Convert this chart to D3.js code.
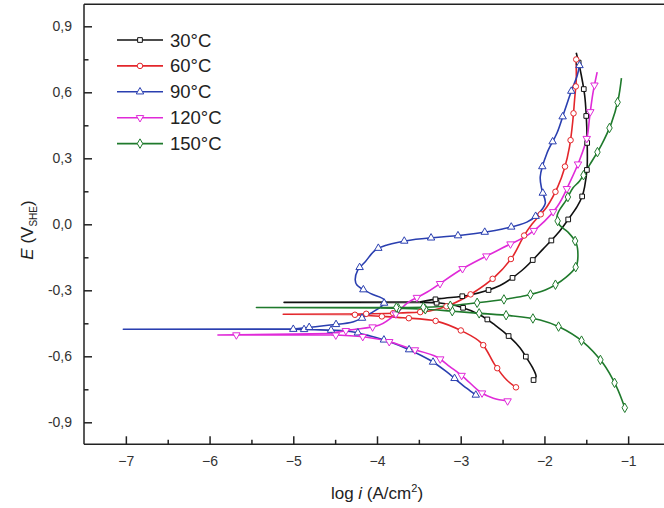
<!DOCTYPE html>
<html><head><meta charset="utf-8">
<script src="https://cdn.jsdelivr.net/npm/d3@7"></script>
<style>body{margin:0;background:#fff}svg{display:block}</style></head>
<body><svg id="c" width="664" height="508"></svg>
<script>
// ---- data (log i in A/cm2, E in V_SHE) ----
const seriesNames = ["30\u00b0C","60\u00b0C","90\u00b0C","120\u00b0C","150\u00b0C"];
const xTicks = [-7,-6,-5,-4,-3,-2,-1];
const yTicks = [-0.9,-0.6,-0.3,0,0.3,0.6,0.9];

const cath30 = [[-2.13,-0.708],[-2.10,-0.693],[-2.14,-0.653],[-2.21,-0.609],[-2.29,-0.562],[-2.41,-0.514],[-2.59,-0.458],[-2.77,-0.412],[-3.01,-0.375],[-3.25,-0.358],[-3.49,-0.355]];
const corr30 = [-5.11,-0.355];
const anod30 = [[-3.49,-0.353],[-3.25,-0.338],[-2.89,-0.321],[-2.53,-0.278],[-2.27,-0.21],[-2.02,-0.114],[-1.84,-0.041],[-1.72,0.02],[-1.61,0.08],[-1.55,0.126],[-1.52,0.17],[-1.49,0.26],[-1.49,0.383],[-1.50,0.489],[-1.52,0.588],[-1.58,0.716],[-1.62,0.78]];

const cath60 = [[-2.34,-0.741],[-2.45,-0.708],[-2.59,-0.64],[-2.75,-0.541],[-2.97,-0.488],[-3.29,-0.44],[-3.69,-0.425],[-3.97,-0.418],[-4.32,-0.41]];
const corr60 = [-5.12,-0.409];
const anod60 = [[-4.32,-0.408],[-3.73,-0.403],[-3.37,-0.394],[-3.13,-0.367],[-2.85,-0.311],[-2.59,-0.238],[-2.38,-0.147],[-2.25,-0.056],[-2.15,0.0],[-1.97,0.08],[-1.84,0.171],[-1.76,0.255],[-1.70,0.353],[-1.66,0.474],[-1.64,0.565],[-1.62,0.656],[-1.62,0.716],[-1.62,0.756]];

const cath90 = [[-2.82,-0.776],[-2.93,-0.745],[-3.05,-0.708],[-3.17,-0.67],[-3.37,-0.617],[-3.61,-0.571],[-3.85,-0.534],[-4.08,-0.508],[-4.32,-0.487],[-4.68,-0.48],[-5.0,-0.477]];
const corr90 = [-7.03,-0.477];
const anod90 = [[-5.0,-0.476],[-4.56,-0.458],[-4.28,-0.443],[-4.08,-0.405],[-3.93,-0.367],[-3.91,-0.344],[-4.08,-0.314],[-4.24,-0.276],[-4.26,-0.253],[-4.23,-0.208],[-4.14,-0.17],[-4.02,-0.117],[-3.88,-0.094],[-3.59,-0.071],[-2.97,-0.049],[-2.50,-0.021],[-2.21,0.01],[-2.09,0.042],[-1.99,0.095],[-2.03,0.156],[-2.05,0.216],[-1.97,0.323],[-1.85,0.415],[-1.76,0.515],[-1.67,0.615],[-1.61,0.674],[-1.58,0.724]];

const cath120 = [[-2.44,-0.803],[-2.61,-0.791],[-2.77,-0.761],[-2.97,-0.693],[-3.13,-0.647],[-3.29,-0.602],[-3.61,-0.564],[-3.85,-0.534],[-4.16,-0.511],[-4.56,-0.503]];
const corr120 = [-5.90,-0.503];
const anod120 = [[-4.56,-0.497],[-4.32,-0.48],[-3.97,-0.458],[-3.76,-0.403],[-3.64,-0.358],[-3.40,-0.308],[-2.97,-0.2],[-2.51,-0.109],[-2.17,-0.041],[-1.85,0.079],[-1.70,0.188],[-1.58,0.292],[-1.49,0.397],[-1.46,0.488],[-1.42,0.597],[-1.37,0.692]];

const cath150 = [[-1.04,-0.834],[-1.14,-0.738],[-1.30,-0.632],[-1.54,-0.534],[-1.82,-0.467],[-2.05,-0.435],[-2.41,-0.415],[-2.77,-0.405],[-3.13,-0.394],[-3.49,-0.385],[-3.96,-0.38]];
const corr150 = [-5.44,-0.378];
const anod150 = [[-3.96,-0.378],[-3.29,-0.375],[-2.93,-0.362],[-2.53,-0.344],[-2.25,-0.326],[-1.99,-0.299],[-1.74,-0.24],[-1.62,-0.19],[-1.60,-0.147],[-1.62,-0.086],[-1.72,-0.035],[-1.82,-0.003],[-1.85,0.035],[-1.82,0.065],[-1.74,0.11],[-1.66,0.165],[-1.58,0.197],[-1.46,0.27],[-1.32,0.36],[-1.20,0.46],[-1.12,0.565],[-1.08,0.664]];

const spikeMarks = [[], [], [[-5.0,-0.477]], [[-5.68,-0.503]], []];

const colors = ["#111111","#e3262b","#2a3fb0","#e02ad8","#1f7a2c"];
const series = [
  {cath:cath30, corr:corr30, anod:anod30},
  {cath:cath60, corr:corr60, anod:anod60},
  {cath:cath90, corr:corr90, anod:anod90},
  {cath:cath120, corr:corr120, anod:anod120},
  {cath:cath150, corr:corr150, anod:anod150}
];

// ---- layout ----
const L = 84, R = 670, T = 4.3, B = 444.3;
const svg = d3.select("#c");
const x = d3.scaleLinear().domain([-7.5,-0.5]).range([L,R]);
const y = d3.scaleLinear().domain([-1,1]).range([B,T]);
const font = "'Liberation Sans', Arial, sans-serif";

const symTypes = [
  {t:d3.symbolSquare, s:22, rot:0},
  {t:d3.symbolCircle, s:24, rot:0},
  {t:d3.symbolTriangle, s:24, rot:0},
  {t:d3.symbolTriangle, s:24, rot:180},
  {t:d3.symbolDiamond, s:26, rot:0}
];

// ---- curves ----
const line = d3.line().x(d=>x(d[0])).y(d=>y(d[1])).curve(d3.curveCatmullRom.alpha(0.5));
const gCurves = svg.append("g");
series.forEach((s,i)=>{
  const g = gCurves.append("g");
  const st = {fill:"none", stroke:colors[i], "stroke-width":1.6, "stroke-linejoin":"round"};
  const spike = [s.cath[s.cath.length-1], s.corr, s.anod[0]];
  [s.cath, s.anod].forEach(arr=>{
    const p = g.append("path").attr("d", line(arr));
    Object.entries(st).forEach(([k,v])=>p.attr(k,v));
  });
  const sp = g.append("path").attr("d", d3.line().x(d=>x(d[0])).y(d=>y(d[1]))(spike));
  Object.entries(st).forEach(([k,v])=>sp.attr(k,v));
});

// ---- markers along curves ----
const gMarks = svg.append("g");
function markerPositions(arr, step, offset){
  const tmp = svg.append("path").attr("d", line(arr)).attr("fill","none");
  const node = tmp.node(); const len = node.getTotalLength();
  const pts = [];
  for(let l=offset; l<=len+0.1; l+=step){ const p=node.getPointAtLength(Math.min(l,len)); pts.push([p.x,p.y]); }
  tmp.remove();
  return pts;
}
function drawSym(g, i, px, py){
  const st = symTypes[i];
  g.append("path").attr("d", d3.symbol().type(st.t).size(st.s)())
    .attr("transform",`translate(${px},${py}) rotate(${st.rot})`)
    .attr("fill","#fff").attr("stroke",colors[i]).attr("stroke-width",1);
}
series.forEach((s,i)=>{
  const g = gMarks.append("g");
  markerPositions(s.cath, 27, 0).forEach(p=>drawSym(g,i,p[0],p[1]));
  const an = markerPositions(s.anod, 27, 16);
  an.forEach(p=>drawSym(g,i,p[0],p[1]));
  spikeMarks[i].forEach(d=>drawSym(g,i,x(d[0]),y(d[1])));
});

// ---- axes ----
const ax = svg.append("g").attr("stroke","#222").attr("stroke-width",1.5);
ax.append("line").attr("x1",L).attr("x2",L).attr("y1",T).attr("y2",B);
ax.append("line").attr("x1",L).attr("x2",R).attr("y1",B).attr("y2",B);
ax.append("line").attr("x1",L).attr("x2",R).attr("y1",T).attr("y2",T);
ax.append("line").attr("x1",R).attr("x2",R).attr("y1",T).attr("y2",B);

const xAxis = d3.axisBottom(x).tickValues(xTicks).tickSizeInner(-8).tickSizeOuter(0).tickPadding(12).tickFormat(d3.format("d"));
const gx = svg.append("g").attr("transform",`translate(0,${B})`).call(xAxis);
const xMinor = d3.axisBottom(x).tickValues(d3.range(-6.5,-0.5,1)).tickSizeInner(-4.5).tickSizeOuter(0).tickFormat("");
const gxm = svg.append("g").attr("transform",`translate(0,${B})`).call(xMinor);

const yAxis = d3.axisLeft(y).tickValues(yTicks).tickSizeInner(-8).tickSizeOuter(0).tickPadding(12)
  .tickFormat(d=> (Math.abs(d)<1e-9? "0,0" : d3.format(".1f")(d).replace(".",",").replace("\u2212","-")));
const gy = svg.append("g").attr("transform",`translate(${L},0)`).call(yAxis);
const yMinor = d3.axisLeft(y).tickValues([-0.75,-0.45,-0.15,0.15,0.45,0.75]).tickSizeInner(-4.5).tickSizeOuter(0).tickFormat("");
const gym = svg.append("g").attr("transform",`translate(${L},0)`).call(yMinor);

[gx,gxm,gy,gym].forEach(g=>{
  g.select(".domain").remove();
  g.selectAll(".tick line").attr("stroke","#222").attr("stroke-width",1.5);
  g.selectAll(".tick text").attr("font-family",font).attr("font-size",14).attr("fill","#333");
});

// ---- axis titles ----
const xt = svg.append("text").attr("x",(L+R)/2).attr("y",499).attr("text-anchor","middle")
  .attr("font-family",font).attr("font-size",17).attr("fill","#222");
xt.append("tspan").text("log ");
xt.append("tspan").attr("font-style","italic").text("i");
xt.append("tspan").text(" (A/cm");
xt.append("tspan").attr("font-size",11).attr("dy",-7).text("2");
xt.append("tspan").attr("dy",7).text(")");

const yt = svg.append("text").attr("transform",`translate(33,${230}) rotate(-90)`).attr("text-anchor","middle")
  .attr("font-family",font).attr("font-size",17).attr("fill","#222");
yt.append("tspan").attr("font-style","italic").text("E");
yt.append("tspan").text(" (V");
yt.append("tspan").attr("font-size",10).attr("dy",4).text("SHE");
yt.append("tspan").attr("dy",-4).text(")");

// ---- legend ----
const lg = svg.append("g");
seriesNames.forEach((n,i)=>{
  const yy = 40 + i*25.9;
  lg.append("line").attr("x1",117).attr("x2",163).attr("y1",yy).attr("y2",yy)
    .attr("stroke",colors[i]).attr("stroke-width",1.6);
  drawSym(lg,i,140,yy);
  lg.append("text").attr("x",170).attr("y",yy+6.5).attr("font-family",font).attr("font-size",18.5)
    .attr("fill","#222").text(n);
});
</script></body></html>
